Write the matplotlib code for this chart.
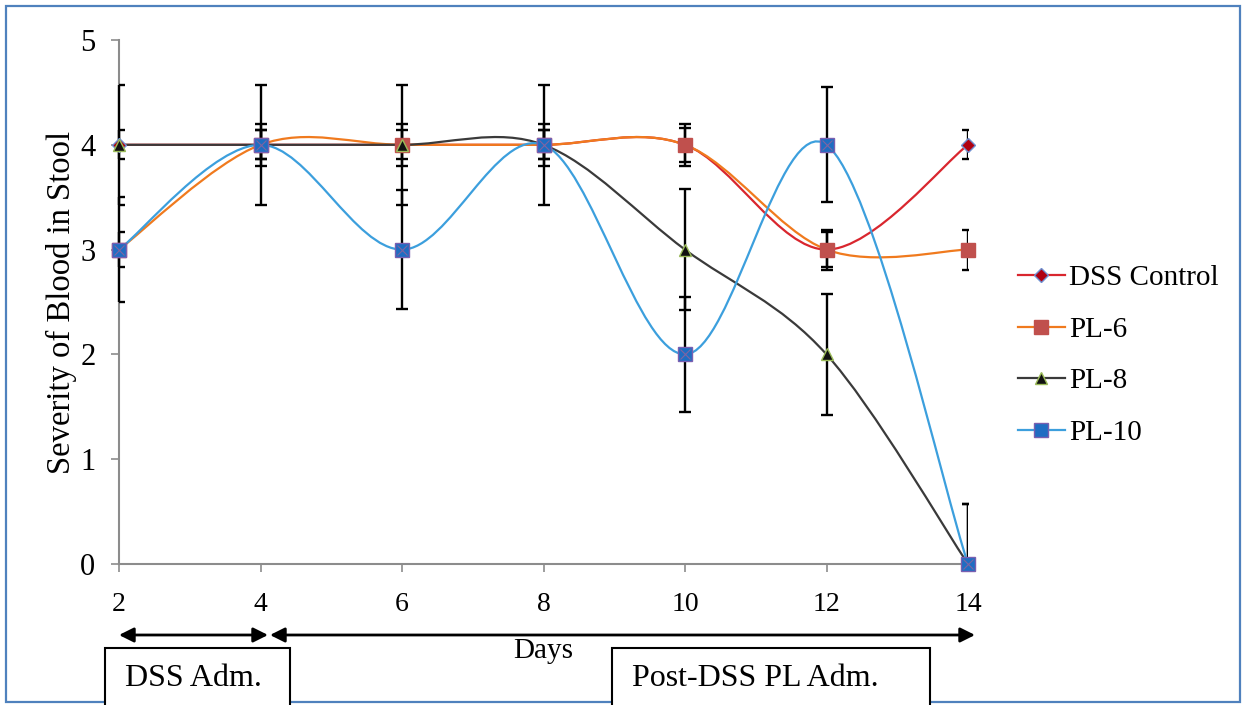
import matplotlib
matplotlib.use('Agg')
import matplotlib.pyplot as plt
from matplotlib.path import Path
from matplotlib.patches import PathPatch, Rectangle, FancyArrowPatch
from matplotlib.lines import Line2D

plt.rcParams['font.family'] = ['Liberation Serif', 'DejaVu Serif']

# data
days = [2, 4, 6, 8, 10, 12, 14]
dss_control = [4, 4, 4, 4, 4, 3, 4]
pl6 = [3, 4, 4, 4, 4, 3, 3]
pl8 = [4, 4, 4, 4, 3, 2, 0]
pl10 = [3, 4, 3, 4, 2, 4, 0]

err_dss = [0.14, 0.14, 0.14, 0.14, 0.2, 0.17, 0.14]
err_pl6 = [0.17, 0.2, 0.2, 0.2, 0.16, 0.19, 0.19]
err_pl8 = [0.57, 0.57, 0.57, 0.57, 0.58, 0.58, 0.57]
err_pl10 = [0.5, 0.14, 0.57, 0.14, 0.55, 0.55, 0.57]

labels = ['DSS Control', 'PL-6', 'PL-8', 'PL-10']
series = [dss_control, pl6, pl8, pl10]
errors = [err_dss, err_pl6, err_pl8, err_pl10]
line_colors = ['#D9262E', '#F07A1E', '#3A3A3A', '#3C9FDD']
marker_face = ['#B00010', '#C0504D', '#111111', '#1F6DC2']
marker_edge = ['#6F8FD0', '#C0504D', '#9BBB59', '#7A5FB0']
markers = ['D', 's', '^', 's']
msizes = [7, 10.5, 8.5, 10.5]


# smooth line like excel (bezier through the points)
def smooth_path(x, y):
    n = len(x)
    verts = [(x[0], y[0])]
    codes = [Path.MOVETO]
    for i in range(n - 1):
        xa, ya = (x[i - 1], y[i - 1]) if i > 0 else (x[i], y[i])
        xb, yb = (x[i + 2], y[i + 2]) if i + 2 < n else (x[i + 1], y[i + 1])
        c1 = (x[i] + (x[i + 1] - xa) / 6, y[i] + (y[i + 1] - ya) / 6)
        c2 = (x[i + 1] - (xb - x[i]) / 6, y[i + 1] - (yb - y[i]) / 6)
        verts += [c1, c2, (x[i + 1], y[i + 1])]
        codes += [Path.CURVE4] * 3
    return Path(verts, codes)


fig = plt.figure(figsize=(12.52, 7.05), dpi=100)
ax = fig.add_axes([119 / 1252, 0.2, (968 - 119) / 1252, (564 - 40) / 705])

# clip box a hair wider on the left so bars on day 2 sit over the axis line
clip_box = Rectangle((-0.003, 0), 1.003, 1, transform=ax.transAxes)
for k in range(4):
    eb = ax.errorbar(days, series[k], yerr=errors[k], fmt='none', ecolor='black',
                     elinewidth=1.7, capsize=4.5, capthick=1.7, zorder=2.7)
    for col in eb[2]:
        col.set_clip_path(clip_box)

for k in range(4):
    patch = PathPatch(smooth_path(days, series[k]), facecolor='none',
                      edgecolor=line_colors[k], lw=1.6, zorder=3)
    ax.add_patch(patch)
    ax.plot(days, series[k], linestyle='none', marker=markers[k], ms=msizes[k],
            mfc=marker_face[k], mec=marker_edge[k], mew=1, zorder=4, clip_on=False)
ax.plot(days, pl10, linestyle='none', marker='x', ms=7, mec='#8064A2', mew=0.8,
        zorder=5, clip_on=False)

ax.set_xlim(2, 14)
ax.set_ylim(0, 5)
ax.set_xticks(days)
ax.set_yticks([0, 1, 2, 3, 4, 5])
for s in ['top', 'right']:
    ax.spines[s].set_visible(False)
for s in ['left', 'bottom']:
    ax.spines[s].set_color('#8C8C8C')
    ax.spines[s].set_linewidth(1.5)
ax.tick_params(axis='both', colors='#8C8C8C', length=6, width=1.2, labelcolor='black')
ax.tick_params(axis='x', labelsize=20, pad=14)
ax.tick_params(axis='y', labelsize=22, pad=11)
ax.set_ylabel('Severity of Blood in Stool', fontsize=23.5, labelpad=2)
ax.set_xlabel('Days', fontsize=21, labelpad=15)

handles = [Line2D([], [], color=line_colors[k], lw=1.6, marker=markers[k],
                  ms=msizes[k], mfc=marker_face[k], mec=marker_edge[k])
           for k in range(4)]
fig.legend(handles, labels, loc='center left', bbox_to_anchor=(1018 / 1252, 0.496),
           frameon=False, fontsize=21, borderpad=0, borderaxespad=0,
           handlelength=1.6, handletextpad=0.15, labelspacing=0.86)

# outer blue frame
fig.patches.append(Rectangle((6 / 1252, 3 / 705), 1234 / 1252, 696 / 705,
                             transform=fig.transFigure, fill=False,
                             edgecolor='#4F81BD', lw=1.6, zorder=0))

# period arrows
arrow_y = 1 - 635 / 705
for x0, x1 in [(119, 268), (270, 975)]:
    fig.patches.append(FancyArrowPatch((x0 / 1252, arrow_y), (x1 / 1252, arrow_y),
                                       transform=fig.transFigure, arrowstyle='<|-|>',
                                       mutation_scale=22, color='black', lw=2,
                                       shrinkA=0, shrinkB=0))

# boxes with the period names
box_top = 1 - 648 / 705
for x0, x1, txt in [(105, 290, 'DSS Adm.'), (612, 930, 'Post-DSS PL Adm.')]:
    fig.patches.append(Rectangle((x0 / 1252, -0.05), (x1 - x0) / 1252, box_top + 0.05,
                                 transform=fig.transFigure, facecolor='white',
                                 edgecolor='black', lw=1.5, zorder=3))
    fig.text((x0 + 20) / 1252, 1 - 679 / 705, txt, fontsize=23, va='center',
             ha='left', zorder=4)

fig.savefig('out.png', dpi=100)
